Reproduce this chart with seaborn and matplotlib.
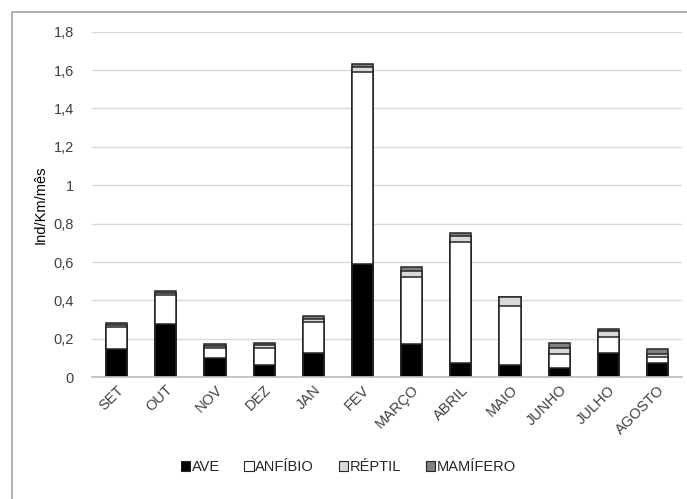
import matplotlib
matplotlib.use("Agg")
import matplotlib.pyplot as plt
import seaborn as sns
import numpy as np
import pandas as pd
from matplotlib.patches import Patch, Rectangle
from matplotlib.ticker import FuncFormatter

meses = ["SET", "OUT", "NOV", "DEZ", "JAN", "FEV", "MARÇO", "ABRIL",
         "MAIO", "JUNHO", "JULHO", "AGOSTO"]
ave      = [0.145, 0.277, 0.100, 0.066, 0.128, 0.590, 0.175, 0.076, 0.064, 0.048, 0.128, 0.076]
anfibio  = [0.115, 0.150, 0.053, 0.088, 0.162, 1.000, 0.348, 0.629, 0.307, 0.073, 0.083, 0.028]
reptil   = [0.010, 0.010, 0.010, 0.012, 0.012, 0.028, 0.030, 0.032, 0.048, 0.030, 0.031, 0.017]
mamifero = [0.010, 0.013, 0.012, 0.014, 0.015, 0.016, 0.019, 0.012, 0.000, 0.026, 0.011, 0.025]

series = [("AVE", ave, "#000000"),
          ("ANFÍBIO", anfibio, "#ffffff"),
          ("RÉPTIL", reptil, "#d9d9d9"),
          ("MAMÍFERO", mamifero, "#808080")]

sns.set_theme(style="white")
plt.rcParams["font.family"] = ["Liberation Sans", "DejaVu Sans"]
FS = 10.5

fig = plt.figure(figsize=(6.87, 4.99), dpi=100)
ax = fig.add_axes([0.134, 0.244, 0.859, 0.6925])

# stacked bars: draw cumulative totals from the top layer down
cum = np.cumsum([s[1] for s in series], axis=0)
for i in range(len(series) - 1, -1, -1):
    df = pd.DataFrame({"mes": meses, "valor": cum[i]})
    sns.barplot(data=df, x="mes", y="valor", color=series[i][2],
                saturation=1, width=0.43, edgecolor="#262626",
                linewidth=1.1, ax=ax, zorder=3)

ax.set_ylim(0, 1.8)
ax.set_xlim(-0.5, len(meses) - 0.5)
ax.set_yticks(np.arange(0, 1.81, 0.2))
ax.yaxis.set_major_formatter(FuncFormatter(
    lambda v, p: ("%g" % round(v, 1)).replace(".", ",")))
ax.grid(axis="y", color="#d9d9d9", linewidth=1, zorder=0)
ax.set_axisbelow(True)
for s in ["top", "right", "left"]:
    ax.spines[s].set_visible(False)
ax.spines["bottom"].set_color("#bfbfbf")
ax.spines["bottom"].set_zorder(4)
ax.tick_params(axis="both", length=0, labelsize=FS, colors="#404040")
ax.tick_params(axis="y", pad=13)
ax.tick_params(axis="x", pad=4)
plt.setp(ax.get_xticklabels(), rotation=45, ha="right", rotation_mode="anchor")
ax.set_xlabel("")
ax.set_ylabel("Ind/Km/mês", fontsize=FS, color="#000000", labelpad=4)

handles = [Patch(facecolor=c, edgecolor="#262626", linewidth=0.8, label=n)
           for n, _, c in series]
fig.legend(handles=handles, loc="center", bbox_to_anchor=(0.507, 0.064),
           ncol=4, frameon=False, fontsize=FS, handlelength=0.65,
           handleheight=0.65, handletextpad=0.1, columnspacing=1.7)

# outer chart frame
fig.patches.append(Rectangle((12 / 687, -0.05), 1.0, 1 - 12 / 499 + 0.05,
                             transform=fig.transFigure, fill=False,
                             edgecolor="#a6a6a6", linewidth=1.2))

fig.savefig("out.png", dpi=100)
